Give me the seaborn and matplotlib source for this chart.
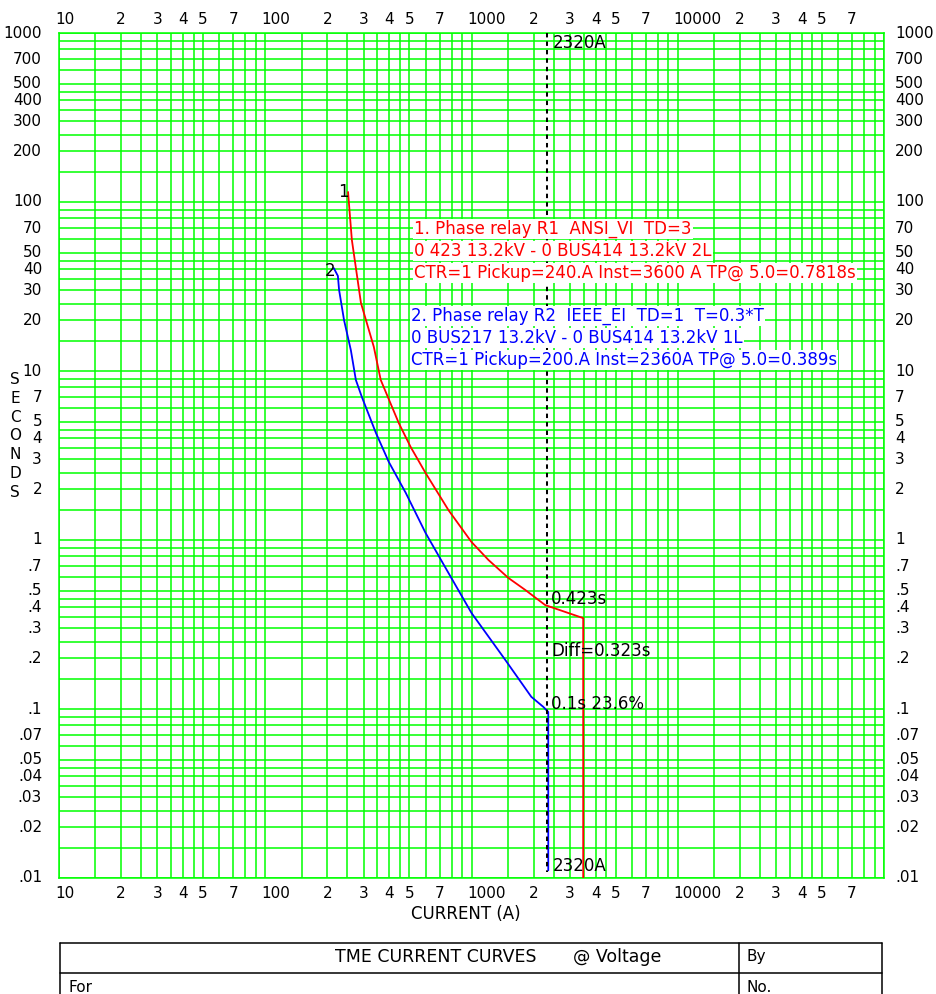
import matplotlib
matplotlib.use("Agg")
import matplotlib.pyplot as plt
import matplotlib.transforms as mtransforms
from matplotlib.ticker import FixedLocator, NullFormatter
import pandas as pd
import seaborn as sns

# relay 1 (red, ANSI VI)
r1_amps = [252, 263, 291, 336, 363, 444, 507, 599, 774, 1000, 1208, 1510,
           1824, 2277, 3480, 3480]
r1_secs = [114.6, 59.6, 25.3, 13.9, 8.85, 4.92, 3.55, 2.49, 1.50, 0.973,
           0.762, 0.596, 0.506, 0.412, 0.345, 0.01]

# relay 2 (blue, IEEE EI)
r2_amps = [215, 225, 228, 241, 260, 275, 294, 344, 397, 480, 599, 749, 1000,
           1459, 1950, 2228, 2356, 2356]
r2_secs = [40.6, 36.5, 30.2, 20.0, 13.3, 8.85, 7.02, 4.30, 2.90, 1.90, 1.10,
           0.683, 0.370, 0.195, 0.118, 0.103, 0.096, 0.0111]

fault_amps = 2320

x_tick_vals = [10, 20, 30, 40, 50, 70, 100, 200, 300, 400, 500, 700, 1000,
               2000, 3000, 4000, 5000, 7000, 10000, 20000, 30000, 40000,
               50000, 70000]
x_tick_text = ["10", "2", "3", "4", "5", "7", "100", "2", "3", "4", "5", "7",
               "1000", "2", "3", "4", "5", "7", "10000", "2", "3", "4", "5",
               "7"]
y_tick_vals = [1000, 700, 500, 400, 300, 200, 100, 70, 50, 40, 30, 20, 10, 7,
               5, 4, 3, 2, 1, .7, .5, .4, .3, .2, .1, .07, .05, .04, .03, .02,
               .01]
y_tick_text = ["1000", "700", "500", "400", "300", "200", "100", "70", "50",
               "40", "30", "20", "10", "7", "5", "4", "3", "2", "1", ".7",
               ".5", ".4", ".3", ".2", ".1", ".07", ".05", ".04", ".03",
               ".02", ".01"]

relay1_text = ["1. Phase relay R1  ANSI_VI  TD=3",
               "0 423 13.2kV - 0 BUS414 13.2kV 2L",
               "CTR=1 Pickup=240.A Inst=3600 A TP@ 5.0=0.7818s"]
relay2_text = ["2. Phase relay R2  IEEE_EI  TD=1  T=0.3*T",
               "0 BUS217 13.2kV - 0 BUS414 13.2kV 1L",
               "CTR=1 Pickup=200.A Inst=2360A TP@ 5.0=0.389s"]

grid_mult = [1, 1.5, 2, 2.5, 3, 3.5, 4, 4.5, 5, 6, 7, 8, 9]
GREEN = "#00ff00"

sns.set_theme(style="white")
plt.rcParams["font.family"] = ["DejaVu Sans"]
plt.rcParams["text.color"] = "black"

W, H = 936, 994
fig = plt.figure(figsize=(W / 100, H / 100), dpi=100)


def fx(x):
    return x / W


def fy(y):
    return 1 - y / H


ax = fig.add_axes([fx(59), fy(878), (884 - 59) / W, (878 - 33) / H])
ax.set_xscale("log")
ax.set_yscale("log")
ax.set_xlim(10, 100000)
ax.set_ylim(0.01, 1000)

grid_x = [m * 10 ** e for e in range(1, 5) for m in grid_mult] + [100000]
grid_y = [m * 10 ** e for e in range(-2, 3) for m in grid_mult] + [1000]
ax.xaxis.set_major_locator(FixedLocator(grid_x))
ax.yaxis.set_major_locator(FixedLocator(grid_y))
ax.xaxis.set_minor_locator(FixedLocator([]))
ax.yaxis.set_minor_locator(FixedLocator([]))
ax.xaxis.set_major_formatter(NullFormatter())
ax.yaxis.set_major_formatter(NullFormatter())
ax.tick_params(length=0)
ax.grid(True, color=GREEN, lw=1.1)
ax.set_axisbelow(True)
for sp in ax.spines.values():
    sp.set_color(GREEN)
    sp.set_linewidth(1.1)

df1 = pd.DataFrame({"amps": r1_amps, "secs": r1_secs})
df2 = pd.DataFrame({"amps": r2_amps, "secs": r2_secs})
sns.lineplot(data=df1, x="amps", y="secs", sort=False, estimator=None,
             color="#ff0000", lw=1.3, ax=ax, zorder=3)
sns.lineplot(data=df2, x="amps", y="secs", sort=False, estimator=None,
             color="#0000ff", lw=1.3, ax=ax, zorder=3)
ax.plot([fault_amps, fault_amps], [1000, 0.0108], color="black", lw=1.45,
        ls=(0, (2.2, 2.0)), zorder=6)
ax.set_xlabel("")
ax.set_ylabel("")

# tick labels on all four sides
tick_fs = 11
xt = ax.get_xaxis_transform()
for v, s in zip(x_tick_vals, x_tick_text):
    ha = "center" if len(s) == 1 else "left"
    dx = 0 if len(s) == 1 else -4
    for dy in (14, -15):
        tr = mtransforms.offset_copy(xt, fig=fig, x=dx, y=dy, units="dots")
        ax.text(v, 1 if dy > 0 else 0, s, transform=tr, ha=ha, va="center",
                fontsize=tick_fs, color="black", clip_on=False)
yt = ax.get_yaxis_transform()
for v, s in zip(y_tick_vals, y_tick_text):
    trl = mtransforms.offset_copy(yt, fig=fig, x=-17, y=0, units="dots")
    ax.text(0, v, s, transform=trl, ha="right", va="center",
            fontsize=tick_fs, color="black", clip_on=False)
    trr = mtransforms.offset_copy(yt, fig=fig, x=11, y=0, units="dots")
    ax.text(1, v, s, transform=trr, ha="left", va="center",
            fontsize=tick_fs, color="black", clip_on=False)

fig.text(fx(15), fy(436), "S\nE\nC\nO\nN\nD\nS", ha="center", va="center",
         fontsize=tick_fs, linespacing=1.33)
fig.text(fx(466), fy(914), "CURRENT (A)", ha="center", va="center",
         fontsize=12)

# curve annotations
ann_fs = 12
box = dict(boxstyle="square,pad=0.06", fc="white", ec="none")
for i, s in enumerate(relay1_text):
    fig.text(fx(414), fy(229 + 22 * i), s, ha="left", va="center",
             fontsize=ann_fs, color="#ff0000", bbox=box, zorder=4)
for i, s in enumerate(relay2_text):
    fig.text(fx(411), fy(316 + 22 * i), s, ha="left", va="center",
             fontsize=ann_fs, color="#0000ff", bbox=box, zorder=4)

fig.text(fx(343), fy(192), "1", ha="center", va="center", fontsize=ann_fs)
fig.text(fx(330), fy(271), "2", ha="center", va="center", fontsize=ann_fs)
fig.text(fx(553), fy(43), "2320A", ha="left", va="center", fontsize=ann_fs)
fig.text(fx(553), fy(866), "2320A", ha="left", va="center", fontsize=ann_fs)
fig.text(fx(551), fy(599), "0.423s", ha="left", va="center", fontsize=ann_fs)
fig.text(fx(551), fy(651), "Diff=0.323s", ha="left", va="center",
         fontsize=ann_fs)
fig.text(fx(551), fy(704), "0.1s 23.6%", ha="left", va="center",
         fontsize=ann_fs)

# title block under the chart
lk = dict(color="black", lw=1.1, transform=fig.transFigure)
fig.add_artist(plt.Line2D([fx(60), fx(882)], [fy(943), fy(943)], **lk))
fig.add_artist(plt.Line2D([fx(60), fx(882)], [fy(973), fy(973)], **lk))
fig.add_artist(plt.Line2D([fx(60), fx(60)], [fy(943), 0], **lk))
fig.add_artist(plt.Line2D([fx(882), fx(882)], [fy(943), 0], **lk))
fig.add_artist(plt.Line2D([fx(739), fx(739)], [fy(943), 0], **lk))
fig.text(fx(335), fy(957), "TME CURRENT CURVES", ha="left", va="center",
         fontsize=12.5)
fig.text(fx(573), fy(957), "@ Voltage", ha="left", va="center",
         fontsize=12.5)
fig.text(fx(746), fy(957), "By", ha="left", va="center", fontsize=tick_fs)
fig.text(fx(68), fy(987), "For", ha="left", va="center", fontsize=tick_fs)
fig.text(fx(746), fy(987), "No.", ha="left", va="center", fontsize=tick_fs)

fig.savefig("out.png", dpi=100)
